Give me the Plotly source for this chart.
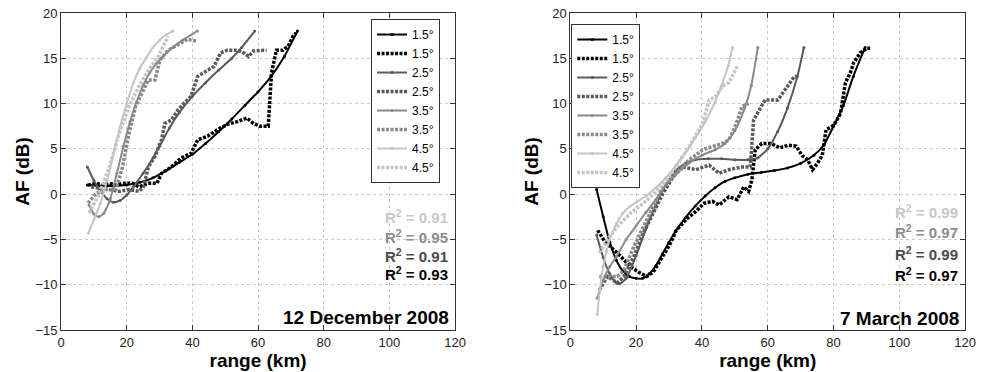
import plotly.graph_objects as go

# ---------------- data: 12 December 2008 (left) ----------------
L_fit15_x = [8, 12, 16, 20, 24, 28, 32, 36, 40, 44, 48, 52, 56, 60, 64, 68, 72]
L_fit15_y = [1.0, 0.9, 0.9, 1.0, 1.3, 1.8, 2.6, 3.5, 4.4, 5.6, 6.9, 8.3, 9.8, 11.3, 13.0, 15.2, 18.0]
L_dat15_x = [8.2, 10.7, 12.7, 14.7, 16.7, 18.7, 21.7, 23.7, 26.6, 29.2, 30.6, 33.6, 36.6, 39.6, 41.6, 44.6, 47.6, 50.6, 53.6, 56.6, 58.6, 60.6, 63.1, 64.1, 65.6, 67.6, 69.1, 70.6, 71.6]
L_dat15_y = [1.0, 1.2, 1.0, 1.2, 1.0, 1.2, 1.2, 0.8, 1.2, 1.2, 2.3, 3.0, 4.0, 4.5, 6.0, 6.4, 7.1, 7.7, 8.0, 8.4, 7.8, 7.5, 7.5, 13.4, 15.9, 15.9, 16.3, 17.4, 17.8]

L_fit25_x = [8, 10, 12, 14, 16, 18, 20, 22, 25, 28, 30, 33, 36, 40, 44, 48, 52, 55, 59]
L_fit25_y = [3.0, 1.5, 0.3, -0.5, -0.9, -0.7, -0.1, 0.8, 2.3, 4.0, 5.3, 7.3, 9.0, 10.8, 12.3, 13.7, 15.0, 16.2, 18.0]
L_dat25_x = [9.2, 11.7, 14.7, 17.7, 20.7, 23.7, 25.1, 26.6, 28.6, 30.6, 31.6, 33.6, 35.6, 37.6, 39.6, 41.6, 43.6, 46.6, 48.6, 50.6, 53.6, 55.6, 57.1, 58.6, 62.6]
L_dat25_y = [0.8, 0.7, 0.5, 0.3, 0.5, 0.3, 0.8, 3.0, 4.2, 6.0, 7.8, 8.2, 9.3, 10.1, 10.8, 13.0, 13.4, 14.1, 15.6, 15.9, 15.9, 15.6, 15.2, 15.8, 15.9]

L_fit35_x = [8.5, 10, 11.5, 13, 15, 17, 19, 21, 23, 25, 27, 29, 31, 34, 37, 41.5]
L_fit35_y = [-1.2, -2.2, -2.5, -2.1, -0.5, 2.3, 5.3, 8.0, 10.2, 12.0, 13.4, 14.4, 15.2, 16.2, 17.0, 18.0]
L_dat35_x = [8.2, 10.7, 13.7, 16.7, 18.7, 20.7, 22.7, 24.7, 26.6, 28.6, 30.1, 32.6, 35.6, 38.6, 41.1]
L_dat35_y = [-1.0, 0.1, 0.5, 0.5, 3.0, 6.7, 9.7, 11.2, 12.6, 12.6, 14.8, 15.9, 16.5, 17.1, 16.9]

L_fit45_x = [8.3, 10, 12, 14, 16, 18, 20, 22, 24, 26, 28, 30, 32, 34]
L_fit45_y = [-4.3, -2.8, -1.0, 1.5, 4.5, 7.5, 10.0, 12.3, 13.9, 15.1, 16.2, 17.0, 17.6, 18.0]
L_dat45_x = [8.5, 11.7, 14.7, 17.7, 20.7, 23.7, 26.6, 29.6, 31.6, 32.6]
L_dat45_y = [-2.1, 0.1, 3.0, 6.7, 9.7, 11.9, 13.7, 15.2, 16.7, 17.4]

L_r2 = ["0.91", "0.95", "0.91", "0.93"]

# ---------------- data: 7 March 2008 (right) ----------------
R_fit15_x = [8, 10, 12, 14, 16, 18, 20, 22, 24, 26, 28, 30, 32, 35, 38, 41, 44, 47, 50, 54, 58, 62, 66, 70, 74, 77, 80, 83, 86, 89.6]
R_fit15_y = [0.5, -2.5, -5.3, -7.3, -8.5, -9.1, -9.3, -9.3, -8.8, -7.9, -6.6, -5.3, -4.1, -2.6, -1.3, -0.2, 0.7, 1.4, 1.8, 2.2, 2.4, 2.6, 2.9, 3.4, 4.3, 5.4, 7.5, 9.8, 13.0, 16.2]
R_dat15_x = [8.3, 10.8, 14.3, 16.3, 18.3, 20.7, 23.2, 25.2, 28.2, 30.2, 32.2, 35.2, 38.2, 40.7, 43.2, 45.2, 48.2, 50.7, 52.7, 54.2, 55.2, 56.2, 58.2, 61.1, 63.6, 66.1, 68.6, 70.6, 72.1, 73.6, 75.1, 76.6, 77.7, 80.1, 82.1, 83.6, 85.1, 86.1, 88.1, 90.1, 91.1]
R_dat15_y = [-4.0, -5.4, -6.5, -7.3, -8.0, -8.6, -9.1, -8.6, -6.9, -5.6, -4.0, -2.8, -1.9, -1.0, -0.8, -1.2, -0.3, -0.6, 0.8, 0.3, 1.6, 4.9, 5.6, 5.6, 5.1, 5.4, 5.3, 4.2, 3.8, 2.7, 3.4, 4.3, 7.1, 7.6, 8.9, 12.3, 13.4, 14.5, 15.6, 16.1, 16.1]

R_fit25_x = [8, 10, 12, 14, 15, 17, 20, 23, 26, 29, 32, 35, 38, 42, 46, 50, 54, 57, 60, 63, 66, 69, 71]
R_fit25_y = [-4.5, -7.0, -8.8, -9.8, -9.9, -9.3, -6.8, -3.8, -1.2, 1.0, 2.6, 3.4, 3.8, 3.9, 3.9, 3.8, 3.8, 4.0, 5.0, 6.9, 9.5, 13.0, 16.2]
R_dat25_x = [8.8, 11.3, 14.3, 16.3, 19.3, 22.2, 25.2, 28.2, 31.2, 34.2, 38.2, 42.2, 45.2, 48.2, 52.2, 54.7, 55.7, 59.2, 63.1, 66.1, 68.1, 69.1]
R_dat25_y = [-10.6, -9.1, -9.8, -9.1, -6.9, -4.3, -2.1, 0.1, 1.9, 3.0, 2.7, 3.2, 2.3, 2.7, 3.0, 3.0, 8.2, 10.4, 10.4, 11.9, 13.0, 13.0]

R_fit35_x = [8.2, 10, 12, 14, 17, 20, 23, 26, 29, 32, 36, 40, 44, 47, 50, 53, 55, 57]
R_fit35_y = [-11.5, -9.5, -8.0, -6.9, -5.0, -3.5, -2.0, -0.6, 1.0, 2.2, 3.4, 4.3, 4.9, 5.6, 7.0, 9.5, 12.0, 16.2]
R_dat35_x = [8.8, 11.3, 14.3, 16.3, 19.3, 22.2, 25.2, 28.2, 32.2, 36.2, 40.2, 43.2, 46.2, 48.2, 50.2, 52.2, 54.2]
R_dat35_y = [-9.1, -9.1, -9.1, -8.4, -5.8, -3.6, -1.4, 0.8, 2.3, 3.8, 4.9, 5.3, 5.6, 6.0, 7.5, 9.7, 10.0]

R_fit45_x = [8.2, 9, 10, 11, 12, 14, 16, 18, 20, 23, 26, 29, 32, 35, 38, 41, 44, 46, 48, 49.3]
R_fit45_y = [-13.3, -10.5, -8.0, -6.3, -5.0, -3.3, -2.1, -1.4, -0.9, -0.2, 0.7, 1.8, 3.1, 4.6, 6.2, 8.0, 10.2, 12.0, 14.2, 16.2]
R_dat45_x = [8.8, 11.3, 14.3, 18.3, 22.2, 26.2, 30.2, 36.2, 40.2, 42.2, 44.2, 46.2, 48.2, 50.7]
R_dat45_y = [-6.5, -5.0, -3.6, -2.1, -1.0, 0.3, 2.0, 5.3, 7.8, 10.4, 10.8, 11.9, 12.3, 14.1]

R_r2 = ["0.99", "0.97", "0.99", "0.97"]

labels = ["1.5°", "2.5°", "3.5°", "4.5°"]
colors = ["#000000", "#5a5a5a", "#8a8a8a", "#c4c4c4"]
r2_colors = ["#c8c8c8", "#8c8c8c", "#4a4a4a", "#000000"]  # top to bottom

FONT = "Liberation Sans, Arial, sans-serif"

fig = go.Figure()

left = [(L_fit15_x, L_fit15_y, L_dat15_x, L_dat15_y),
        (L_fit25_x, L_fit25_y, L_dat25_x, L_dat25_y),
        (L_fit35_x, L_fit35_y, L_dat35_x, L_dat35_y),
        (L_fit45_x, L_fit45_y, L_dat45_x, L_dat45_y)]
right = [(R_fit15_x, R_fit15_y, R_dat15_x, R_dat15_y),
         (R_fit25_x, R_fit25_y, R_dat25_x, R_dat25_y),
         (R_fit35_x, R_fit35_y, R_dat35_x, R_dat35_y),
         (R_fit45_x, R_fit45_y, R_dat45_x, R_dat45_y)]

for series, xa, ya, leg in [(left, "x", "y", "legend"), (right, "x2", "y2", "legend2")]:
    for i, (fx, fy, dx, dy) in enumerate(series):
        fig.add_trace(go.Scatter(
            x=fx, y=fy, mode="lines+markers", name=labels[i],
            line=dict(color=colors[i], width=2, shape="spline", smoothing=0.6),
            marker=dict(color=colors[i], size=3),
            xaxis=xa, yaxis=ya, legend=leg))
        fig.add_trace(go.Scatter(
            x=dx, y=dy, mode="lines", name=labels[i],
            line=dict(color=colors[i], width=3.5, dash="3px,1.5px"),
            xaxis=xa, yaxis=ya, legend=leg))

axis_common = dict(
    showgrid=True, gridcolor="#c8c8c8", griddash="dot", gridwidth=1,
    showline=True, linecolor="#333333", linewidth=1, mirror="ticks",
    ticks="inside", ticklen=5, tickcolor="#333333",
    zeroline=False, tickfont=dict(family=FONT, size=13, color="#222222"),
)
xt = dict(text="range (km)", font=dict(family=FONT, size=19, color="#000", weight="bold"), standoff=0)
yt = dict(text="AF (dB)", font=dict(family=FONT, size=19, color="#000", weight="bold"), standoff=0)

fig.update_layout(
    width=986, height=372,
    margin=dict(l=0, r=0, t=13, b=42),
    paper_bgcolor="white", plot_bgcolor="white",
    showlegend=True,
    xaxis=dict(domain=[0.0588, 0.4645], range=[0, 120], dtick=20, title=xt, anchor="y", **axis_common),
    yaxis=dict(domain=[0, 1], range=[-15, 20], dtick=5, title=yt, anchor="x", **axis_common),
    xaxis2=dict(domain=[0.5832, 0.9899], range=[0, 120], dtick=20, title=xt, anchor="y2", **axis_common),
    yaxis2=dict(domain=[0, 1], range=[-15, 20], dtick=5, title=yt, anchor="x2", **axis_common),
    legend=dict(x=0.378, y=0.981, xanchor="left", yanchor="top",
                bgcolor="white", bordercolor="#333333", borderwidth=1,
                font=dict(family=FONT, size=12, color="#000")),
    legend2=dict(x=0.5842, y=0.965, xanchor="left", yanchor="top",
                 bgcolor="white", bordercolor="#333333", borderwidth=1,
                 font=dict(family=FONT, size=12, color="#000")),
)

L_r2_y = [-2.5, -4.7, -6.8, -8.8]
R_r2_y = [-1.9, -4.1, -6.5, -8.9]
for k in range(4):
    fig.add_annotation(x=118.5, y=L_r2_y[k], xref="x", yref="y", xanchor="right", yanchor="middle",
                       text="R<sup>2</sup> = " + L_r2[k], showarrow=False,
                       font=dict(family=FONT, size=15, color=r2_colors[k], weight="bold"))
    fig.add_annotation(x=118.3, y=R_r2_y[k], xref="x2", yref="y2", xanchor="right", yanchor="middle",
                       text="R<sup>2</sup> = " + R_r2[k], showarrow=False,
                       font=dict(family=FONT, size=15, color=r2_colors[k], weight="bold"))

fig.add_annotation(x=118.8, y=-13.6, xref="x", yref="y", xanchor="right", yanchor="middle",
                   text="12 December 2008", showarrow=False,
                   font=dict(family=FONT, size=19, color="#000", weight="bold"))
fig.add_annotation(x=118.8, y=-13.7, xref="x2", yref="y2", xanchor="right", yanchor="middle",
                   text="7 March 2008", showarrow=False,
                   font=dict(family=FONT, size=19, color="#000", weight="bold"))

fig.write_html("out.html")
